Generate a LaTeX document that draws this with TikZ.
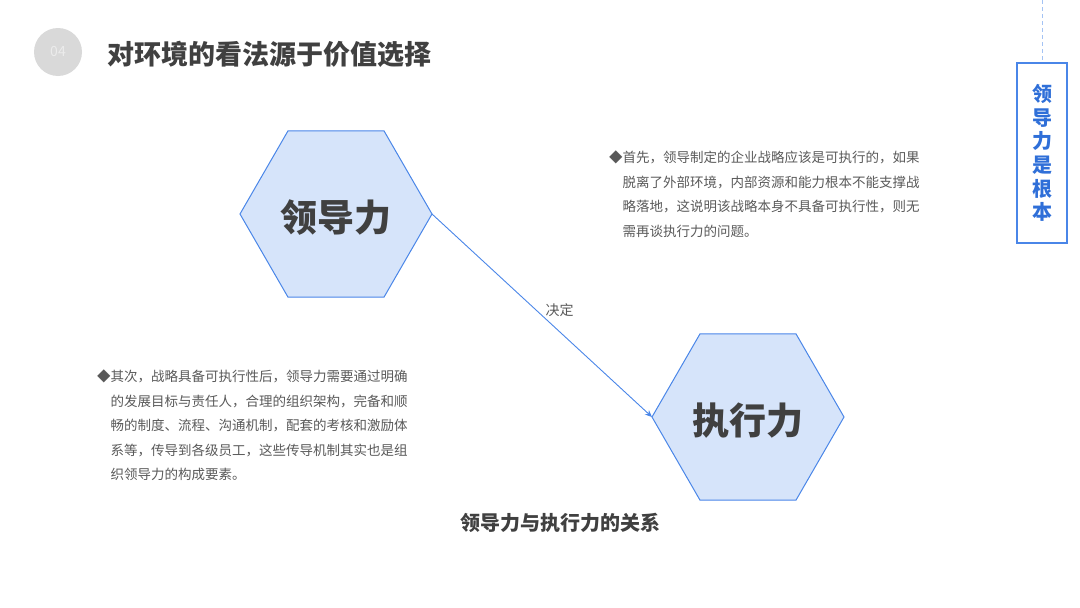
\documentclass[tikz,border=0pt]{standalone}
\usepackage{fontspec}
\setmainfont{Noto Sans CJK SC}
\usepackage{xcolor}
\usepackage{tikz}
\usetikzlibrary{positioning, arrows.meta, shapes.geometric}

\definecolor{hexblue}{RGB}{74,134,232}
\definecolor{hexfill}{RGB}{214,228,250}
\definecolor{bodygray}{RGB}{89,89,89}
\definecolor{titlegray}{RGB}{64,64,64}
\definecolor{tagblue}{RGB}{47,111,216}

\begin{document}
\begin{tikzpicture}[x=1pt, y=-1pt,
  hexbox/.style={regular polygon, regular polygon sides=6, minimum size=192pt,
                 inner sep=0pt, outer sep=0pt, draw=hexblue, line width=1pt,
                 fill=hexfill, text=titlegray, font=\fontsize{37}{37}\selectfont\bfseries},
  para/.style={anchor=north west, inner sep=0pt, align=left, text=bodygray,
               font=\fontsize{13.5}{24.5}\selectfont},
  arr/.style={-{Stealth[length=7pt, width=6pt]}, line width=0.9pt, hexblue}
]
  \useasboundingbox (0,0) rectangle (1080,608);

  % heading
  \node[circle, fill=gray!30, minimum size=48pt, inner sep=0pt, text=gray!15,
        font=\fontsize{14}{14}\selectfont] (badge) at (58,52) {04};
  \node[anchor=west, inner sep=0pt, text=titlegray,
        font=\fontsize{27}{27}\selectfont\bfseries] (title) at (107,54)
    {对环境的看法源于价值选择};

  % side tag
  \node[draw=hexblue, line width=1.2pt, minimum width=50pt, minimum height=180pt,
        inner sep=0pt, align=center, text=tagblue,
        font=\fontsize{20}{23.6}\selectfont\bfseries] (tag) at (1042,153)
    {领\\导\\力\\是\\根\\本};
  \coordinate (tagtop) at (1042,0);
  \draw[hexblue!50, line width=0.8pt, dash pattern=on 4pt off 3pt] (tagtop) -- (tag.north);

  % hexagons
  \node[hexbox] (lead) at (336,214) {\raisebox{-4pt}[\height][\depth]{领导力}};
  \node[hexbox] (exec) at (748,417) {\raisebox{-4pt}[\height][\depth]{执行力}};

  \draw[arr] (lead.east) -- (exec.west)
    node[pos=0.58, above=11pt, text=bodygray, font=\fontsize{14}{14}\selectfont] (decide) {决定};

  % notes
  \node[para] (note1) at (609,151)
    {◆首先，领导制定的企业战略应该是可执行的，如果\\
     \hspace*{13.5pt}脱离了外部环境，内部资源和能力根本不能支撑战\\
     \hspace*{13.5pt}略落地，这说明该战略本身不具备可执行性，则无\\
     \hspace*{13.5pt}需再谈执行力的问题。};
  \node[para] (note2) at (97,370)
    {◆其次，战略具备可执行性后，领导力需要通过明确\\
     \hspace*{13.5pt}的发展目标与责任人，合理的组织架构，完备和顺\\
     \hspace*{13.5pt}畅的制度、流程、沟通机制，配套的考核和激励体\\
     \hspace*{13.5pt}系等，传导到各级员工，这些传导机制其实也是组\\
     \hspace*{13.5pt}织领导力的构成要素。};

  \node[text=titlegray, inner sep=0pt, font=\fontsize{20}{20}\selectfont\bfseries]
    (caption) at (560,523) {领导力与执行力的关系};
\end{tikzpicture}
\end{document}
